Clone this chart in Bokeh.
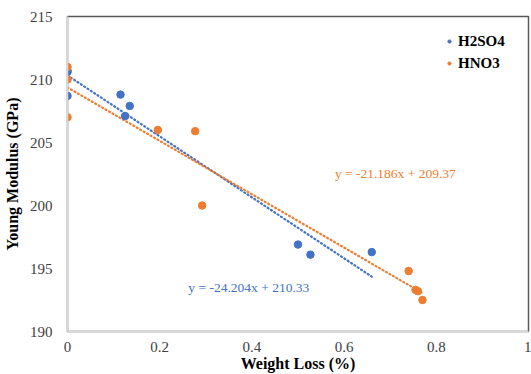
from bokeh.plotting import figure
from bokeh.models import Range1d, Legend, LegendItem, Label, FixedTicker
from bokeh.embed import file_html
from bokeh.resources import INLINE

# Measured samples: weight loss (%) vs Young modulus (GPa)
h2so4_loss = [0, 0, 0, 0.115, 0.135, 0.125, 0.5, 0.527, 0.66]
h2so4_modulus = [210.6, 210.7, 208.7, 208.8, 207.9, 207.1, 196.9, 196.1, 196.3]

hno3_loss = [0, 0, 0, 0.196, 0.277, 0.292, 0.74, 0.755, 0.76, 0.77]
hno3_modulus = [211.0, 210.0, 207.0, 206.0, 205.9, 200.0, 194.8, 193.3, 193.2, 192.5]

# Linear trend fits (slope, intercept, fitted x-span)
h2so4_fit = (-24.204, 210.33, (0.0, 0.66))
hno3_fit = (-21.186, 209.37, (0.0, 0.77))

x_ticks = [0, 0.2, 0.4, 0.6, 0.8, 1]
y_ticks = [190, 195, 200, 205, 210, 215]

BLUE = "#4472C4"
ORANGE = "#ED7D31"
SERIF = "Liberation Serif"

p = figure(width=531, height=374, output_backend="svg", toolbar_location=None,
           x_range=Range1d(0, 1), y_range=Range1d(190, 215),
           min_border_left=67, min_border_right=3, min_border_top=16, min_border_bottom=43)
p.grid.visible = False
p.outline_line_color = "#595959"
p.outline_line_width = 1.5

for ax in (p.xaxis, p.yaxis):
    ax.major_tick_line_color = None
    ax.minor_tick_line_color = None
    ax.axis_line_color = "#D9D9D9"
    ax.axis_line_width = 1.5
    ax.major_label_text_font = SERIF
    ax.major_label_text_font_size = "15px"
    ax.major_label_text_color = "#404040"
    ax.axis_label_text_font = SERIF
    ax.axis_label_text_font_style = "bold"
    ax.axis_label_text_font_size = "16px"
    ax.axis_label_text_color = "#000000"

p.xaxis.ticker = FixedTicker(ticks=x_ticks)
p.yaxis.ticker = FixedTicker(ticks=y_ticks)
p.xaxis.major_label_overrides = {0: "0", 1: "1"}
p.xaxis.major_label_standoff = 4
p.yaxis.major_label_standoff = 9
p.xaxis.axis_label = "Weight Loss (%)"
p.yaxis.axis_label = "Young Modulus (GPa)"
p.xaxis.axis_label_standoff = 0
p.yaxis.axis_label_standoff = 6


def trend(fit):
    m, b, (x0, x1) = fit
    xs = [x0, x1]
    return xs, [m * x + b for x in xs]


for fit, color in ((h2so4_fit, BLUE), (hno3_fit, ORANGE)):
    xs, ys = trend(fit)
    p.line(xs, ys, line_color=color, line_width=2.2, line_dash="1 3", line_cap="round")

rb = p.scatter(h2so4_loss, h2so4_modulus, size=7.5, color=BLUE)
ro = p.scatter(hno3_loss, hno3_modulus, size=7.5, color=ORANGE)

# Fit equations
p.add_layout(Label(x=0.58, y=202.55, text=f"y = {hno3_fit[0]}x + {hno3_fit[1]}",
                   text_font=SERIF, text_font_size="13.5px", text_color=ORANGE,
                   text_baseline="middle"))
p.add_layout(Label(x=0.262, y=193.5, text=f"y = {h2so4_fit[0]}x + {h2so4_fit[1]}",
                   text_font=SERIF, text_font_size="13.5px", text_color=BLUE,
                   text_baseline="middle"))

legend = Legend(items=[LegendItem(label="H2SO4", renderers=[rb]),
                       LegendItem(label="HNO3", renderers=[ro])],
                location=(378, 258), border_line_color=None, background_fill_alpha=0,
                label_text_font=SERIF, label_text_font_style="bold",
                label_text_color="#000000",
                label_text_font_size="15px", glyph_width=8, glyph_height=20,
                label_standoff=5, label_height=20, spacing=2, margin=0, padding=6)
p.add_layout(legend)

open("out.html", "w").write(file_html(p, INLINE))
